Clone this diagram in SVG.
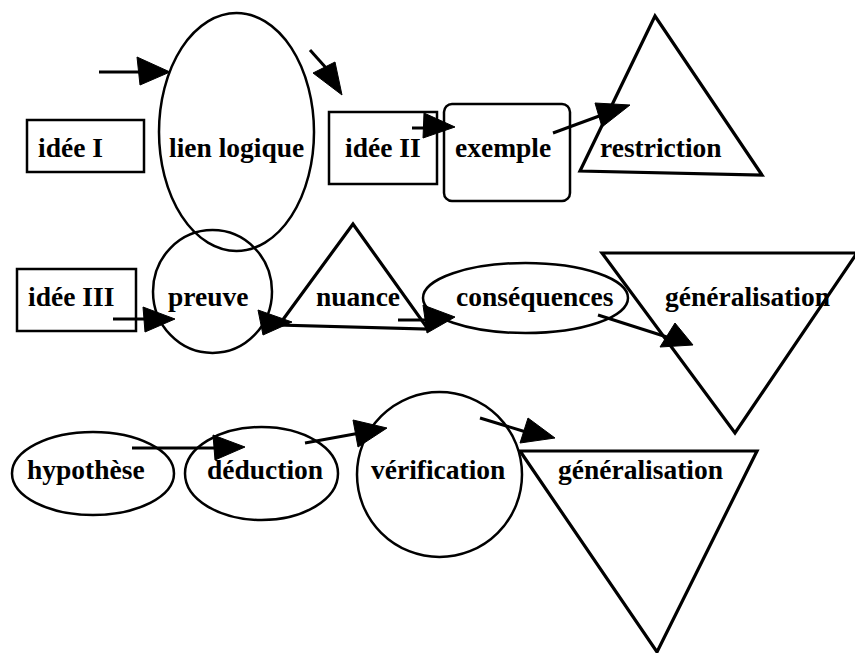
<svg xmlns="http://www.w3.org/2000/svg" width="855" height="653" viewBox="0 0 855 653">
<style>
.s{fill:none;stroke:#000;stroke-width:2.5}
.t{fill:none;stroke:#000;stroke-width:3.2;stroke-linejoin:miter}
.l{font-family:"Liberation Serif","Times New Roman",serif;font-weight:bold;font-size:27.5px;fill:#000}
.c line{stroke:#000;stroke-width:3}
.c polygon{fill:#000;stroke:#000;stroke-width:1;stroke-linejoin:round}
</style>
<rect width="855" height="653" fill="#fff"/>
<g id="idee1"><rect class="s" x="27" y="120" width="117" height="52"/><text class="l" x="38" y="157">idée I</text></g>
<g id="lien"><ellipse class="s" cx="236.5" cy="132" rx="77.5" ry="119"/><text class="l" x="169" y="157">lien logique</text></g>
<g id="idee2"><rect class="s" x="329" y="112" width="108" height="72"/><text class="l" x="345" y="157">idée II</text></g>
<g id="exemple"><rect class="s" x="444" y="104" width="126" height="97" rx="8"/><text class="l" x="455" y="157">exemple</text></g>
<g id="restriction"><polygon class="t" points="655,16 580,171 762,175"/><text class="l" x="600" y="157">restriction</text></g>
<g id="idee3"><rect class="s" x="17" y="269" width="119" height="62"/><text class="l" x="28" y="306">idée III</text></g>
<g id="preuve"><ellipse class="s" cx="212.5" cy="291.5" rx="59.5" ry="61.5"/><text class="l" x="168" y="306">preuve</text></g>
<g id="nuance"><polygon class="t" points="353,224 279,325 428,329"/><text class="l" x="316" y="306">nuance</text></g>
<g id="consequences"><ellipse class="s" cx="525.5" cy="298" rx="102.5" ry="35"/><text class="l" x="456" y="306">conséquences</text></g>
<g id="generalisation1"><polygon class="t" points="602,253 857,253 735,433"/><text class="l" x="665" y="306">généralisation</text></g>
<g id="hypothese"><ellipse class="s" cx="93" cy="473.5" rx="81" ry="41.5"/><text class="l" x="27" y="479">hypothèse</text></g>
<g id="deduction"><ellipse class="s" cx="261.5" cy="473.5" rx="76.5" ry="46.5"/><text class="l" x="207" y="479">déduction</text></g>
<g id="verification"><circle class="s" cx="439.5" cy="474.5" r="82.5"/><text class="l" x="371" y="479">vérification</text></g>
<g id="generalisation2"><polygon class="t" points="520,451 757,451 657,652"/><text class="l" x="558" y="479">généralisation</text></g>
<g id="connectors" class="c">
<line x1="99" y1="72" x2="142" y2="72"/><polygon points="137,57 170,72 140,85"/>
<line x1="310" y1="50" x2="327" y2="69"/><polygon points="313,73 335,62 342,95"/>
<line x1="412" y1="128" x2="428" y2="128"/><polygon points="424,113 455,127 423,138"/>
<line x1="553" y1="133" x2="602" y2="115"/><polygon points="595,103 630,105 602,127"/>
<polygon points="258,310 292,322 263,335"/>
<line x1="113" y1="319" x2="146" y2="319"/><polygon points="143,307 175,319 145,332"/>
<line x1="398" y1="320" x2="426" y2="320"/><polygon points="423,305 455,317 427,333"/>
<line x1="598" y1="315" x2="670" y2="338"/><polygon points="675,323 693,345 660,347"/>
<line x1="132" y1="448" x2="216" y2="448"/><polygon points="213,435 245,447 215,460"/>
<line x1="305" y1="443" x2="360" y2="433"/><polygon points="353,420 387,428 358,447"/>
<line x1="480" y1="418" x2="526" y2="432"/><polygon points="528,418 555,438 520,443"/>
</g>
</svg>
